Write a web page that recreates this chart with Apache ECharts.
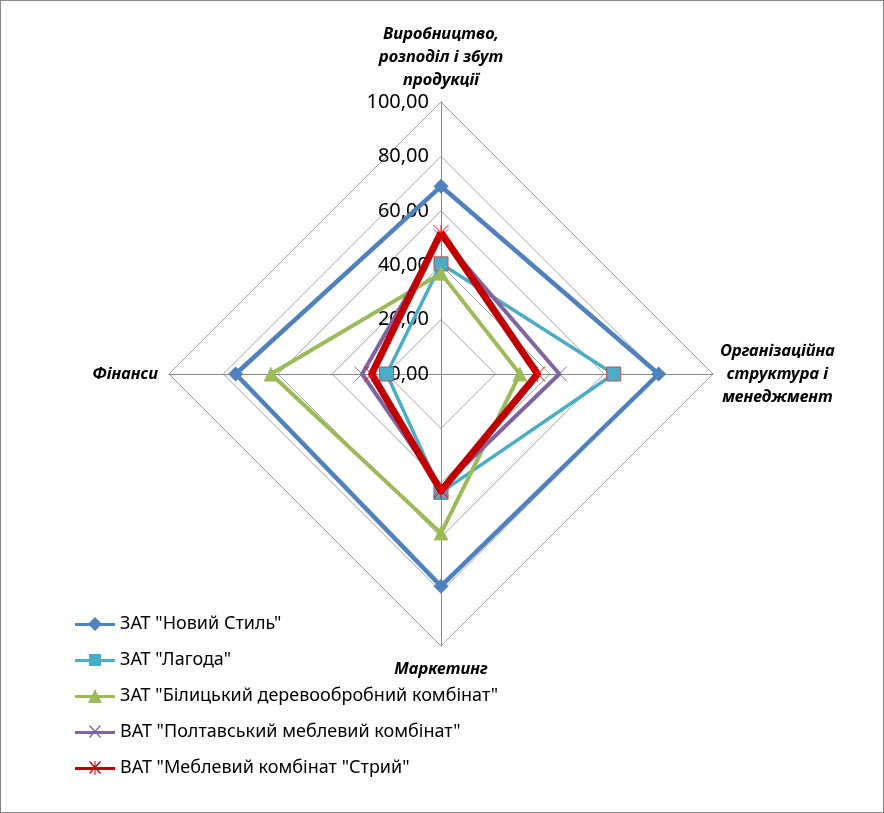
<!DOCTYPE html>
<html><head><meta charset="utf-8">
<script src="https://cdn.jsdelivr.net/npm/echarts@6/dist/echarts.min.js"></script>
<style>
html,body{margin:0;padding:0;background:#fff;}
#c{width:884px;height:813px;box-sizing:border-box;border:1px solid #868686;}
</style></head>
<body><div id="c"></div>
<script>
// Indicators, clockwise from the top as in the reference
const categories = ['Виробництво,\nрозподіл і збут\nпродукції', 'Організаційна\nструктура і\nменеджмент', 'Маркетинг', 'Фінанси'];
const seriesNames = ['ЗАТ "Новий Стиль"', 'ЗАТ "Лагода"', 'ЗАТ "Білицький деревообробний комбінат"', 'ВАТ "Полтавський меблевий комбінат"', 'ВАТ "Меблевий комбінат "Стрий"'];
const noviyStyl   = [69, 80, 78, 75.5];
const lagoda      = [40.5, 63.5, 43.5, 20];
const bilytskyi   = [37, 29, 58.5, 62.5];
const poltavskyi  = [50.5, 43.5, 42, 29];
const stryi       = [52, 35.5, 43, 25.5];
const axisMax = 100;

// ECharts lays radar indicators out counter-clockwise: reorder top, left, bottom, right
const order = [0, 3, 2, 1];
const reorder = arr => order.map(i => arr[i]);

const colors = ['#4F81BD', '#4BACC6', '#9BBB59', '#8064A2', '#C00000'];
const FONT = '"Noto Sans", sans-serif';

const nameRich = {a: {align: 'center', fontSize: 16.5, fontWeight: 'bold', fontStyle: 'italic', fontFamily: FONT, color: '#000', lineHeight: 23}};
const nameFmt = s => s.split('\n').map(l => '{a|' + l + '}').join('\n');

const indicator = order.map((i, k) => {
  const o = {name: categories[i], max: axisMax, min: 0};
  if (k !== 0) o.axisLabel = {show: false};
  if (i === 2) o.nameGap = 12;
  if (i === 1) o.nameGap = 7;
  if (i === 3) o.nameGap = 11;
  return o;
});

const line = 'M0,6 L40,6 L40,9 L0,9 Z ';
const icons = [
  'path://' + line + 'M20,0 L27,7 L20,14 L13,7 Z',
  'path://' + line + 'M14,1 L26,1 L26,13 L14,13 Z',
  'path://' + line + 'M20,0 L27,14 L13,14 Z',
  'path://' + line + 'M14,1 L15,0 L26,12 L25,13 Z M25,0 L26,1 L15,13 L14,12 Z M20,0 L20,0 L20,14 L20,14 Z',
  'path://' + line + 'M14,1 L15,0 L26,12 L25,13 Z M25,0 L26,1 L15,13 L14,12 Z M19.5,0 L20.5,0 L20.5,14 L19.5,14 Z'
];

const vals = [noviyStyl, lagoda, bilytskyi, poltavskyi, stryi];
const symbols = ['diamond', 'rect', 'triangle', 'path://M0,0 L10,10 M10,0 L0,10', 'path://M0,0 L10,10 M10,0 L0,10 M5,0 L5,10'];
const sizes = [15, 14, 15, 15, 15];
const widths = [4.5, 3.5, 4, 4, 7];
const itemStyles = [
  {color: colors[0]},
  {color: colors[1], borderColor: '#C0504D', borderWidth: 1},
  {color: colors[2]},
  {color: 'rgba(0,0,0,0)', borderColor: colors[3], borderWidth: 1},
  {color: 'rgba(0,0,0,0)', borderColor: '#FF0000', borderWidth: 1}
];

const series = vals.map((v, i) => ({
  type: 'radar',
  name: seriesNames[i],
  symbol: symbols[i],
  symbolSize: sizes[i],
  lineStyle: {color: colors[i], width: widths[i]},
  itemStyle: itemStyles[i],
  data: [{value: reorder(v), name: seriesNames[i]}],
  z: 2 + i
}));

const chart = echarts.init(document.getElementById('c'), null, {renderer: 'canvas'});
chart.setOption({
  animation: false,
  backgroundColor: '#fff',
  legend: {
    orient: 'vertical', left: 69, top: 609, itemGap: 18, itemWidth: 40, itemHeight: 14,
    textStyle: {fontSize: 18, fontFamily: FONT, color: '#000'},
    data: seriesNames.map((n, i) => ({name: n, icon: icons[i], itemStyle: {color: colors[i], borderWidth: 0}}))
  },
  radar: {
    center: [440, 373], radius: 272, startAngle: 90, shape: 'polygon', splitNumber: 5,
    nameGap: 10,
    axisName: {formatter: nameFmt, rich: nameRich, color: '#000'},
    indicator: indicator,
    splitArea: {show: false},
    splitLine: {lineStyle: {color: '#A0A0A0', width: 1}},
    axisLine: {lineStyle: {color: '#868686', width: 1}},
    axisTick: {show: false},
    axisLabel: {show: true, color: '#000', fontSize: 20, fontFamily: FONT, margin: 12,
      formatter: v => v.toFixed(2).replace('.', ',')}
  },
  series: series
});
</script></body></html>
